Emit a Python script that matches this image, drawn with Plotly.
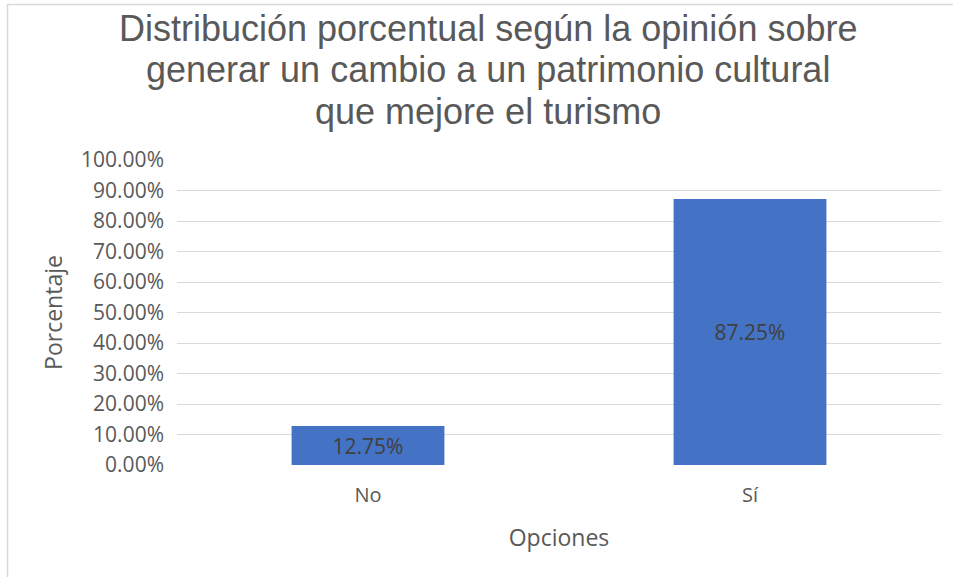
import plotly.graph_objects as go

categories = ["No", "Sí"]
values = [0.1275, 0.8725]
value_labels = ["12.75%", "87.25%"]
tick_values = [0, 0.1, 0.2, 0.3, 0.4, 0.5, 0.6, 0.7, 0.8, 0.9, 1.0]
tick_labels = ["0.00%", "10.00%", "20.00%", "30.00%", "40.00%", "50.00%",
               "60.00%", "70.00%", "80.00%", "90.00%", "100.00%"]
title_lines = ["Distribución porcentual según la opinión sobre",
               "generar un cambio a un patrimonio cultural",
               "que mejore el turismo"]

W, H = 953, 577
L, R, T, B = 177, 12, 160, 112

fig = go.Figure()
fig.add_trace(go.Bar(
    x=categories, y=values,
    text=value_labels, textposition="inside", insidetextanchor="middle",
    textfont=dict(family="Open Sans", size=21, color="#404040"),
    marker=dict(color="#4472C4", line=dict(width=0)),
    hoverinfo="skip",
))

fig.update_layout(
    width=W, height=H,
    margin=dict(l=L, r=R, t=T, b=B),
    paper_bgcolor="white", plot_bgcolor="white",
    bargap=0.6,
    showlegend=False,
    uniformtext=dict(minsize=21, mode="show"),
    xaxis=dict(showgrid=False, showline=False, ticks="",
               ticklabelstandoff=16,
               tickfont=dict(family="Open Sans", size=20, color="#595959"),
               title=dict(text="Opciones", standoff=22,
                          font=dict(family="Open Sans", size=23, color="#595959"))),
    yaxis=dict(range=[0, 1.0], tickvals=tick_values, ticktext=tick_labels,
               showgrid=True, gridcolor="#D9D9D9", gridwidth=1,
               zeroline=True, zerolinecolor="white", zerolinewidth=2,
               showline=False, ticks="", ticklabelstandoff=12,
               tickfont=dict(family="Open Sans", size=21, color="#595959"),
               title=dict(text="Porcentaje", standoff=12,
                          font=dict(family="Open Sans", size=23, color="#595959"))),
)

pw = W - L - R
ph = H - T - B
def px_x(x):
    return (x - L) / pw
def px_y(y):
    return (H - B - y) / ph

title_centers_y = [28, 70, 111]
for line, cy in zip(title_lines, title_centers_y):
    fig.add_annotation(text=line, xref="paper", yref="paper",
                       x=px_x(488), y=px_y(cy), xanchor="center", yanchor="middle",
                       showarrow=False,
                       font=dict(family="Liberation Sans", size=36, color="#595959"))

fig.add_shape(type="line", xref="paper", yref="paper",
              x0=px_x(7), x1=px_x(953), y0=px_y(4.5), y1=px_y(4.5),
              line=dict(color="#D9D9D9", width=1.5))
fig.add_shape(type="line", xref="paper", yref="paper",
              x0=px_x(7.5), x1=px_x(7.5), y0=px_y(4), y1=px_y(577),
              line=dict(color="#D9D9D9", width=1.5))

fig.write_html("out.html", config={"displayModeBar": False},
               post_script="document.body.style.margin='0px';")
